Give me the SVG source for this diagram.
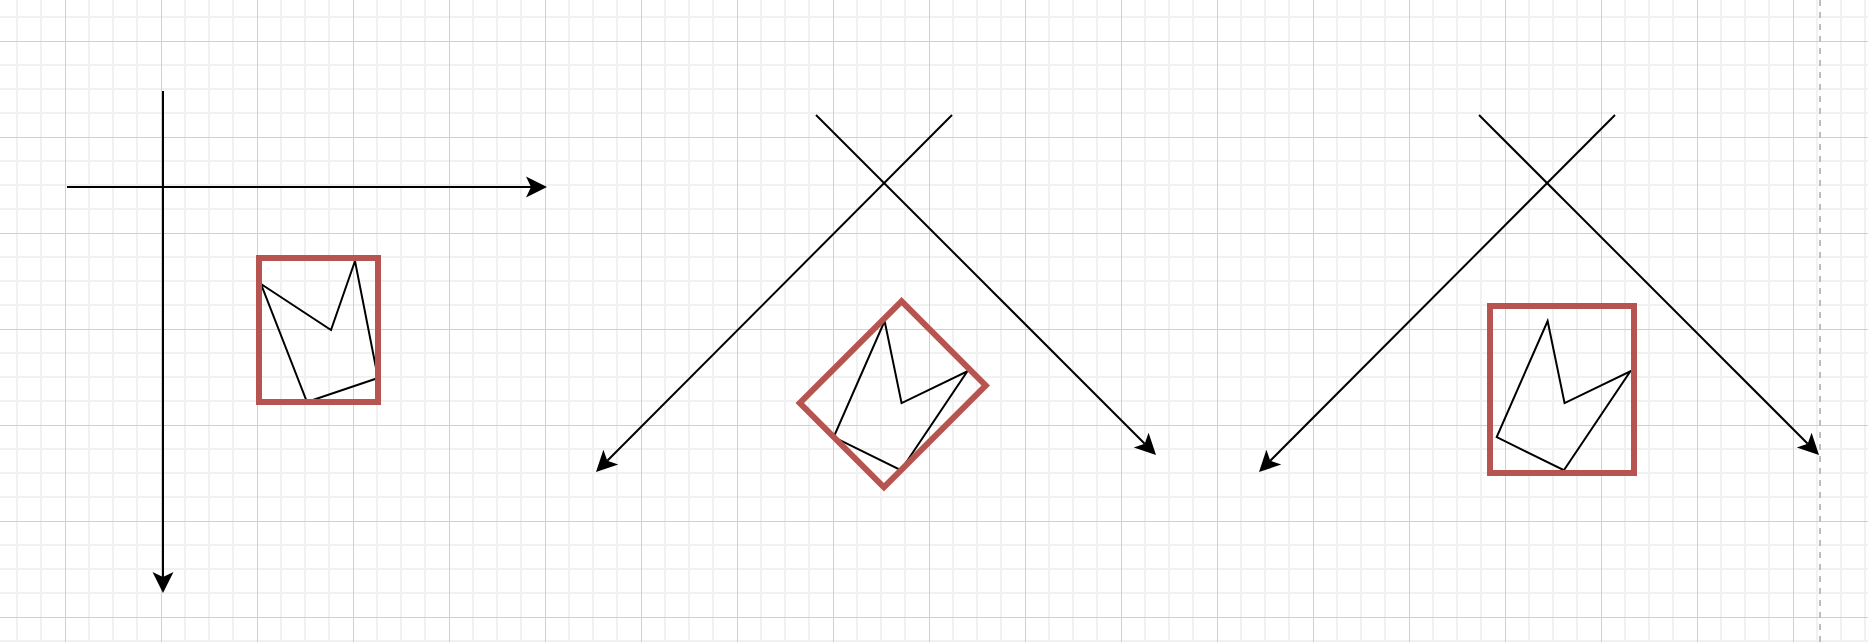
<svg xmlns="http://www.w3.org/2000/svg" width="1868" height="642" viewBox="0 0 1868 642">
<style>
.red{fill:none;stroke:#b85450;stroke-width:6;stroke-linejoin:miter}
.shape{fill:none;stroke:#000;stroke-width:2;stroke-linejoin:miter}
.conn{fill:none;stroke:#000;stroke-width:2}
</style>
<defs>
<pattern id="grid" patternUnits="userSpaceOnUse" x="65" y="41" width="96" height="96">
<path d="M24,0V96M48,0V96M72,0V96M0,24H96M0,48H96M0,72H96" stroke="#f1f1f1" stroke-width="2" fill="none"/>
<path d="M0.5,0V96M0,0.5H96" stroke="#d0d0d0" stroke-width="1" fill="none"/>
</pattern>
<marker id="arrow" markerUnits="userSpaceOnUse" orient="auto" refX="0" refY="0" markerWidth="40" markerHeight="40" overflow="visible">
<path d="M16,0L-5,-10.5L0,0L-5,10.5Z" fill="#000"/>
</marker>
<polygon id="crown" points="261,284 331,330 355,261 378,378 307,402"/>
</defs>
<rect width="1868" height="642" fill="#fff"/>
<rect width="1868" height="642" fill="url(#grid)"/>
<line x1="1820" y1="0" x2="1820" y2="642" stroke="#bdbdbd" stroke-width="2" stroke-dasharray="6 6"/>
<g id="connectors">
<line class="conn" x1="163" y1="91" x2="163" y2="577" marker-end="url(#arrow)"/>
<line class="conn" x1="67" y1="187" x2="531" y2="187" marker-end="url(#arrow)"/>
<line class="conn" x1="816" y1="115" x2="1144.7" y2="443.7" marker-end="url(#arrow)"/>
<line class="conn" x1="952" y1="115" x2="607.3" y2="460.7" marker-end="url(#arrow)"/>
<line class="conn" x1="1479" y1="115" x2="1807.7" y2="443.7" marker-end="url(#arrow)"/>
<line class="conn" x1="1615" y1="115" x2="1270.3" y2="460.7" marker-end="url(#arrow)"/>
</g>
<g id="panel1">
<use href="#crown" class="shape"/>
<rect class="red" x="259" y="258" width="119" height="144"/>
</g>
<g id="panel2" transform="translate(574.25,64.25) rotate(45 318.5 330)">
<use href="#crown" class="shape"/>
<rect class="red" x="259" y="258" width="119" height="144"/>
</g>
<g id="panel3">
<use href="#crown" class="shape" transform="translate(1237.25,64.25) rotate(45 318.5 330)"/>
<rect class="red" x="1490" y="306" width="144" height="167"/>
</g>
</svg>
